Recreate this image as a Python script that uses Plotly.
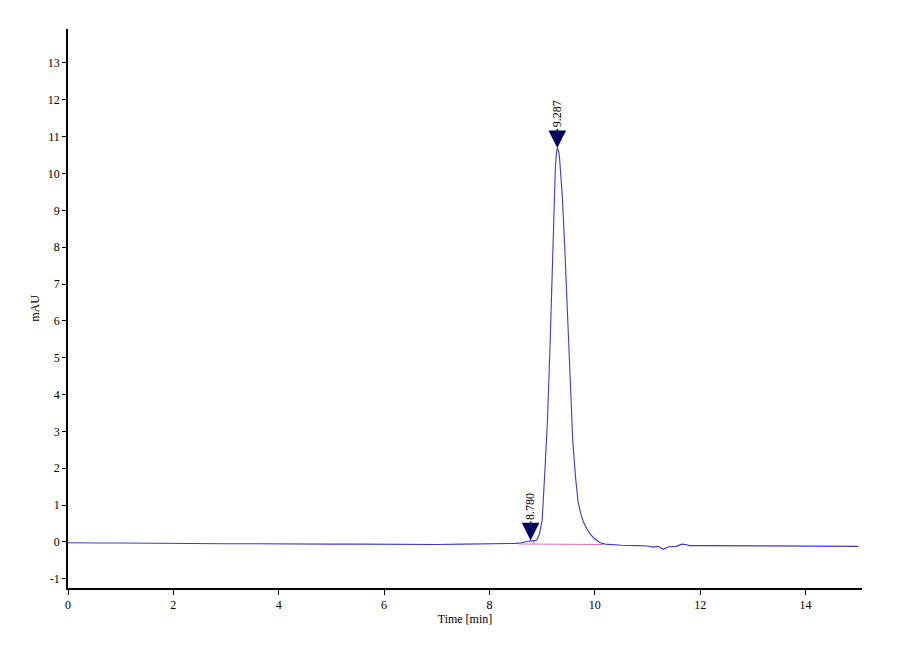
import plotly.graph_objects as go

# Chromatogram trace (time in min, absorbance in mAU)
time_min = [0.0, 0.3, 0.6, 1.0, 1.5, 2.0, 2.5, 3.0, 3.5, 4.0, 4.5, 5.0, 5.5, 6.0,
            6.5, 7.0, 7.5, 8.0, 8.3, 8.5, 8.6, 8.7, 8.78, 8.85, 8.9, 8.95, 9.0,
            9.05, 9.1, 9.15, 9.2, 9.25, 9.27, 9.287, 9.3, 9.315, 9.33, 9.38,
            9.43, 9.48, 9.53, 9.58, 9.63, 9.68, 9.73, 9.78, 9.85, 9.92, 10.0,
            10.1, 10.2, 10.35, 10.5, 10.8, 11.0, 11.1, 11.2, 11.3, 11.4, 11.55,
            11.65, 11.72, 11.8, 12.0, 12.5, 13.0, 13.5, 14.0, 14.5, 15.0]
signal_mau = [-0.02, -0.03, -0.03, -0.03, -0.04, -0.04, -0.05, -0.05, -0.05,
              -0.06, -0.06, -0.06, -0.06, -0.07, -0.07, -0.07, -0.06, -0.06,
              -0.05, -0.04, -0.02, 0.01, 0.03, 0.03, 0.06, 0.22, 0.6, 1.9,
              3.3, 5.35, 8.1, 10.16, 10.55, 10.69, 10.66, 10.58, 10.41, 9.42,
              7.94, 6.21, 4.55, 2.75, 1.8, 1.1, 0.78, 0.55, 0.35, 0.2, 0.08,
              -0.02, -0.06, -0.08, -0.09, -0.1, -0.11, -0.14, -0.12, -0.2,
              -0.13, -0.12, -0.06, -0.07, -0.1, -0.1, -0.1, -0.1, -0.11, -0.11,
              -0.11, -0.12]

# Integration baseline (pink)
base_t = [8.55, 10.15]
base_y = [-0.055, -0.07]
drop_t = [8.84, 8.84]
drop_y = [-0.06, 0.03]

# Peak labels
peak_times = [8.780, 9.287]
peak_heights = [0.04, 10.69]
peak_labels = ["8.780", "9.287"]

x_ticks = [0, 2, 4, 6, 8, 10, 12, 14]
y_ticks = [-1, 0, 1, 2, 3, 4, 5, 6, 7, 8, 9, 10, 11, 12, 13]
y_tick_text = [str(v) for v in y_ticks]

FONT = "Liberation Serif"

fig = go.Figure()
fig.add_trace(go.Scatter(x=base_t, y=base_y, mode="lines",
                         line=dict(color="#e070b0", width=1), hoverinfo="skip"))
fig.add_trace(go.Scatter(x=drop_t, y=drop_y, mode="lines",
                         line=dict(color="#e070b0", width=1), hoverinfo="skip"))
fig.add_trace(go.Scatter(x=time_min, y=signal_mau, mode="lines",
                         line=dict(color="#3a3ad0", width=1.1)))

for t, h, lab in zip(peak_times, peak_heights, peak_labels):
    fig.add_annotation(x=t, y=h, xref="x", yref="y", text=lab, textangle=-90,
                       showarrow=True, ax=0, ay=-34, arrowhead=2, arrowsize=2.2,
                       arrowwidth=1.6, arrowcolor="#000060",
                       font=dict(family=FONT, size=12, color="black"))

fig.update_layout(
    width=900, height=660,
    margin=dict(l=60, r=46, t=21, b=80),
    paper_bgcolor="white", plot_bgcolor="white",
    showlegend=False,
    font=dict(family=FONT, size=12, color="black"),
)
fig.update_xaxes(range=[0, 15.07], tickvals=x_ticks, showgrid=False, zeroline=False,
                 showline=True, linecolor="black", linewidth=1.5,
                 ticks="outside", ticklen=5, tickcolor="black",
                 title=dict(text="Time [min]", standoff=3,
                            font=dict(family=FONT, size=12)),
                 tickfont=dict(family=FONT, size=12, color="black"))
fig.update_yaxes(range=[-1.25, 13.92], tickvals=y_ticks, ticktext=y_tick_text,
                 showgrid=False, zeroline=False,
                 showline=True, linecolor="black", linewidth=1.5,
                 ticks="outside", ticklen=4, tickcolor="black",
                 title=dict(text="mAU", standoff=6,
                            font=dict(family=FONT, size=12)),
                 tickfont=dict(family=FONT, size=12, color="black"))

fig.write_html("out.html")
